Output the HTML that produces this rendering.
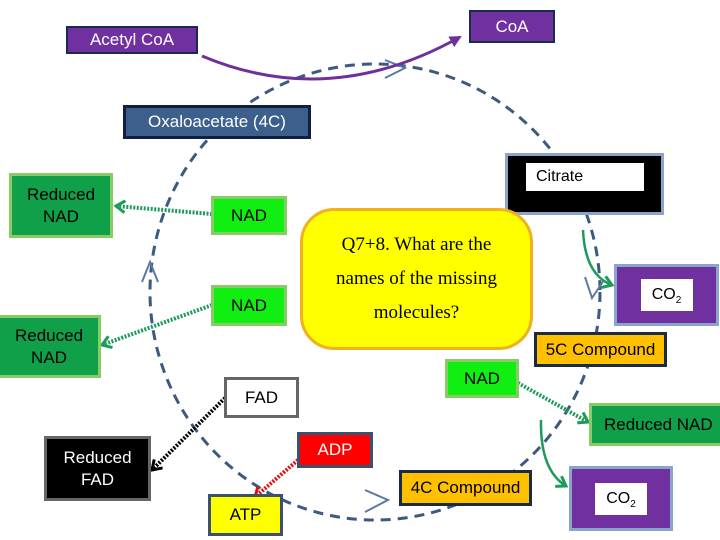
<!DOCTYPE html>
<html><head><style>
body{margin:0;width:720px;height:540px;background:#fff;overflow:hidden;position:relative;font-family:"Liberation Sans",sans-serif}
.b{position:absolute;display:flex;align-items:center;justify-content:center;text-align:center;box-sizing:border-box;font-size:17px;line-height:22px}
</style></head><body>
<svg width="720" height="540" style="position:absolute;left:0;top:0">
<defs>
<marker id="ag" markerUnits="userSpaceOnUse" markerWidth="14" markerHeight="14" refX="11" refY="7" orient="auto"><path d="M2,1 L11,7 L2,13" fill="none" stroke="#1e9a5a" stroke-width="3"/></marker>
<marker id="ak" markerUnits="userSpaceOnUse" markerWidth="14" markerHeight="14" refX="11" refY="7" orient="auto"><path d="M2,1 L11,7 L2,13" fill="none" stroke="#000" stroke-width="3"/></marker>
<marker id="ar" markerUnits="userSpaceOnUse" markerWidth="14" markerHeight="14" refX="11" refY="7" orient="auto"><path d="M2,1 L11,7 L2,13" fill="none" stroke="#e01010" stroke-width="3"/></marker>
<marker id="ap" markerUnits="userSpaceOnUse" markerWidth="14" markerHeight="14" refX="10" refY="7" orient="auto"><path d="M0,1 L12,7 L0,13 z" fill="#70309a"/></marker>
</defs>
<ellipse cx="375" cy="292" rx="225" ry="228" fill="none" stroke="#3c5a80" stroke-width="3" stroke-dasharray="10,7"/>
<path d="M385,60 L405,68 L385,78" fill="none" stroke="#5a7aa0" stroke-width="2"/>
<path d="M142,282 L150,262 L158,282" fill="none" stroke="#5a7aa0" stroke-width="2"/>
<path d="M365,490 L388,500 L365,512" fill="none" stroke="#5a7aa0" stroke-width="2"/>
<path d="M585,277 L592,298 L604,280" fill="none" stroke="#5a7aa0" stroke-width="2"/>
<path d="M202,56 Q330,110 460,37" fill="none" stroke="#70309a" stroke-width="3" marker-end="url(#ap)"/>
<line x1="212" y1="214" x2="116" y2="206" stroke="#1e9a5a" stroke-width="4" stroke-dasharray="2,1.5" marker-end="url(#ag)"/>
<line x1="212" y1="305" x2="102" y2="345" stroke="#1e9a5a" stroke-width="4" stroke-dasharray="2,1.5" marker-end="url(#ag)"/>
<line x1="518" y1="383" x2="588" y2="422" stroke="#1e9a5a" stroke-width="4" stroke-dasharray="2,1.5" marker-end="url(#ag)"/>
<line x1="225" y1="398" x2="152" y2="470" stroke="#000" stroke-width="4" stroke-dasharray="2,1.5" marker-end="url(#ak)"/>
<line x1="298" y1="460" x2="255" y2="497" stroke="#e01010" stroke-width="4" stroke-dasharray="2,1.5" marker-end="url(#ar)"/>
<path d="M583,230 Q585,275 612,285" fill="none" stroke="#1e9a5a" stroke-width="2.5" marker-end="url(#ag)"/>
<path d="M541,420 Q540,470 566,486" fill="none" stroke="#1e9a5a" stroke-width="2.5" marker-end="url(#ag)"/>
</svg>
<div class="b" style="left:66px;top:26px;width:132px;height:28px;background:#7030a0;border:2px solid #1a2a50;color:#fff">Acetyl CoA</div>
<div class="b" style="left:469px;top:10px;width:86px;height:33px;background:#7030a0;border:2px solid #1a2a50;color:#fff">CoA</div>
<div class="b" style="left:123px;top:105px;width:188px;height:34px;background:#3c5f8c;border:3px solid #102040;color:#fff">Oxaloacetate (4C)</div>
<div class="b" style="left:505px;top:153px;width:159px;height:62px;background:#000;border:3px solid #8aa4cc;align-items:flex-start;justify-content:flex-start;padding:7px 0 0 18px"><div style="background:#fff;width:118px;height:28px;font-size:16px;text-align:left;padding:3px 0 0 10px;box-sizing:border-box">Citrate</div></div>
<div class="b" style="left:9px;top:173px;width:104px;height:65px;background:#11a04a;border:3px solid #88cc66;color:#000">Reduced<br>NAD</div>
<div class="b" style="left:211px;top:196px;width:76px;height:39px;background:#11ee11;border:3px solid #88cc66">NAD</div>
<div class="b" style="left:300px;top:208px;width:233px;height:142px;background:#ffff00;border:3px solid #f0b020;border-radius:34px;font-family:'Liberation Serif',serif;font-size:19px;line-height:34px">Q7+8. What are the<br>names of the missing<br>molecules?</div>
<div class="b" style="left:211px;top:285px;width:76px;height:41px;background:#11ee11;border:3px solid #88cc66">NAD</div>
<div class="b" style="left:-3px;top:315px;width:104px;height:63px;background:#11a04a;border:3px solid #88cc66">Reduced<br>NAD</div>
<div class="b" style="left:614px;top:264px;width:105px;height:62px;background:#7030a0;border:3px solid #8aa4cc"><div style="background:#fff;width:52px;height:32px;font-size:16px;line-height:32px">CO<sub style="font-size:10px">2</sub></div></div>
<div class="b" style="left:534px;top:332px;width:133px;height:35px;background:#ffc000;border:3px solid #1a2a40">5C Compound</div>
<div class="b" style="left:445px;top:359px;width:74px;height:39px;background:#11ee11;border:3px solid #88cc66">NAD</div>
<div class="b" style="left:224px;top:377px;width:75px;height:41px;background:#fff;border:3px solid #666">FAD</div>
<div class="b" style="left:589px;top:403px;width:135px;height:43px;background:#11a04a;border:3px solid #88cc66;justify-content:flex-start;padding-left:12px;white-space:nowrap">Reduced NAD</div>
<div class="b" style="left:44px;top:436px;width:107px;height:65px;background:#000;border:3px solid #666;color:#fff">Reduced<br>FAD</div>
<div class="b" style="left:297px;top:432px;width:76px;height:36px;background:#ff0000;border:3px solid #3c5070;color:#fff">ADP</div>
<div class="b" style="left:208px;top:494px;width:75px;height:42px;background:#ffff00;border:3px solid #3c5070">ATP</div>
<div class="b" style="left:399px;top:470px;width:133px;height:36px;background:#ffc000;border:3px solid #1a2a40">4C Compound</div>
<div class="b" style="left:569px;top:466px;width:104px;height:65px;background:#7030a0;border:3px solid #8aa4cc"><div style="background:#fff;width:52px;height:32px;font-size:16px;line-height:32px">CO<sub style="font-size:10px">2</sub></div></div>
</body></html>
